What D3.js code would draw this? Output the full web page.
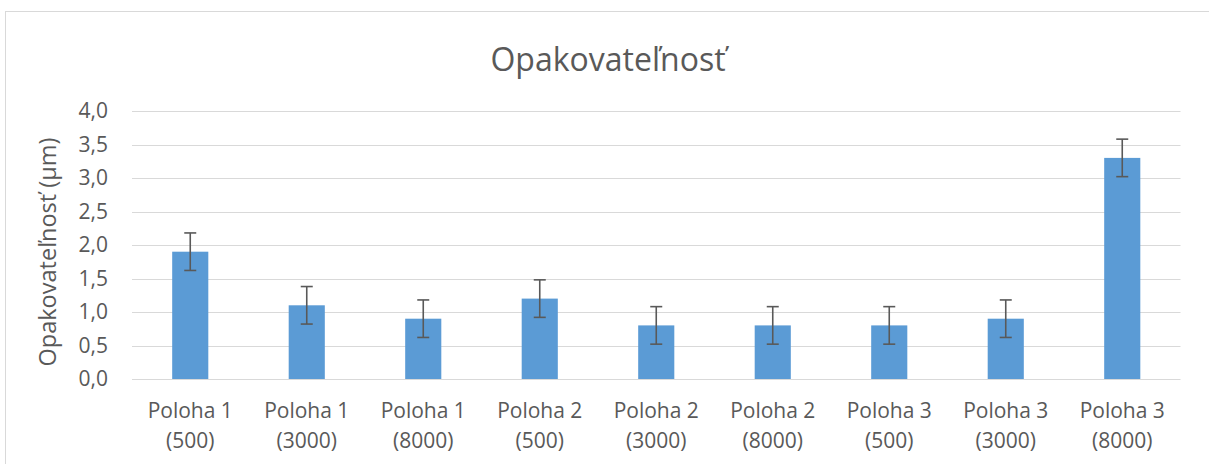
<!DOCTYPE html>
<html>
<head>
<meta charset="utf-8">
<script src="https://cdn.jsdelivr.net/npm/d3@7"></script>
<style>
  html, body { margin: 0; padding: 0; background: #fff; }
  svg { display: block; }
  text { font-family: "Open Sans", "Noto Sans", sans-serif; fill: #595959; }
</style>
</head>
<body>
<script>
// Repeatability measurements per position and load
const categories = [
  ["Poloha 1", "(500)"], ["Poloha 1", "(3000)"], ["Poloha 1", "(8000)"],
  ["Poloha 2", "(500)"], ["Poloha 2", "(3000)"], ["Poloha 2", "(8000)"],
  ["Poloha 3", "(500)"], ["Poloha 3", "(3000)"], ["Poloha 3", "(8000)"]
];
const values = [1.9, 1.1, 0.9, 1.2, 0.8, 0.8, 0.8, 0.9, 3.3];
const errors = [0.28, 0.28, 0.28, 0.28, 0.28, 0.28, 0.28, 0.28, 0.28];
const yTicks = [0, 0.5, 1, 1.5, 2, 2.5, 3, 3.5, 4];
const titleText = "Opakovateľnosť";
const yTitleText = "Opakovateľnosť (µm)";

const W = 1209, H = 464;
const plot = { left: 132, right: 1180.5, top: 111, bottom: 379 };

const svg = d3.select("body").append("svg").attr("width", W).attr("height", H);

// chart frame (continues past the right and bottom edges)
svg.append("rect")
  .attr("x", 5.5).attr("y", 11.5).attr("width", 1220).attr("height", 470)
  .attr("fill", "#fff").attr("stroke", "#d9d9d9").attr("stroke-width", 1);

const keys = categories.map((c, i) => i);
const x = d3.scaleBand().domain(keys).range([plot.left, plot.right])
  .paddingInner(0.69).paddingOuter(0.345);
const y = d3.scaleLinear().domain([0, 4]).range([plot.bottom, plot.top]);

const fmt = v => d3.format(".1f")(v).replace(".", ",");

// horizontal gridlines
svg.append("g").selectAll("line").data(yTicks).join("line")
  .attr("x1", plot.left).attr("x2", plot.right)
  .attr("y1", d => Math.round(y(d)) + 0.5).attr("y2", d => Math.round(y(d)) + 0.5)
  .attr("stroke", "#d9d9d9").attr("stroke-width", 1);

// y tick labels
svg.append("g").selectAll("text").data(yTicks).join("text")
  .attr("x", 108).attr("y", d => y(d))
  .attr("dy", "0.35em").attr("text-anchor", "end")
  .style("font-size", "21px")
  .text(fmt);

// bars
svg.append("g").selectAll("rect").data(values).join("rect")
  .attr("x", (d, i) => x(i)).attr("width", x.bandwidth())
  .attr("y", d => y(d)).attr("height", d => y(0) - y(d))
  .attr("fill", "#5b9bd5");

// error bars
const eb = svg.append("g").attr("stroke", "#595959").attr("stroke-width", 1.6);
values.forEach((v, i) => {
  const cx = x(i) + x.bandwidth() / 2;
  const hi = y(v + errors[i]), lo = y(v - errors[i]);
  eb.append("line").attr("x1", cx).attr("x2", cx).attr("y1", hi).attr("y2", lo);
  eb.append("line").attr("x1", cx - 6).attr("x2", cx + 6).attr("y1", hi).attr("y2", hi);
  eb.append("line").attr("x1", cx - 6).attr("x2", cx + 6).attr("y1", lo).attr("y2", lo);
});

// x category labels (two lines)
const xl = svg.append("g").selectAll("text").data(categories).join("text")
  .attr("text-anchor", "middle").style("font-size", "21px");
xl.append("tspan").attr("x", (d, i) => x(i) + x.bandwidth() / 2).attr("y", 418).text(d => d[0]);
xl.append("tspan").attr("x", (d, i) => x(i) + x.bandwidth() / 2).attr("y", 448).text(d => d[1]);

// title
svg.append("text").attr("x", 608).attr("y", 71).attr("text-anchor", "middle")
  .style("font-size", "32px").text(titleText);

// y axis title
svg.append("text")
  .attr("transform", "translate(55.5," + 252 + ") rotate(-90)")
  .attr("text-anchor", "middle")
  .style("font-size", "23.5px").text(yTitleText);
</script>
</body>
</html>
